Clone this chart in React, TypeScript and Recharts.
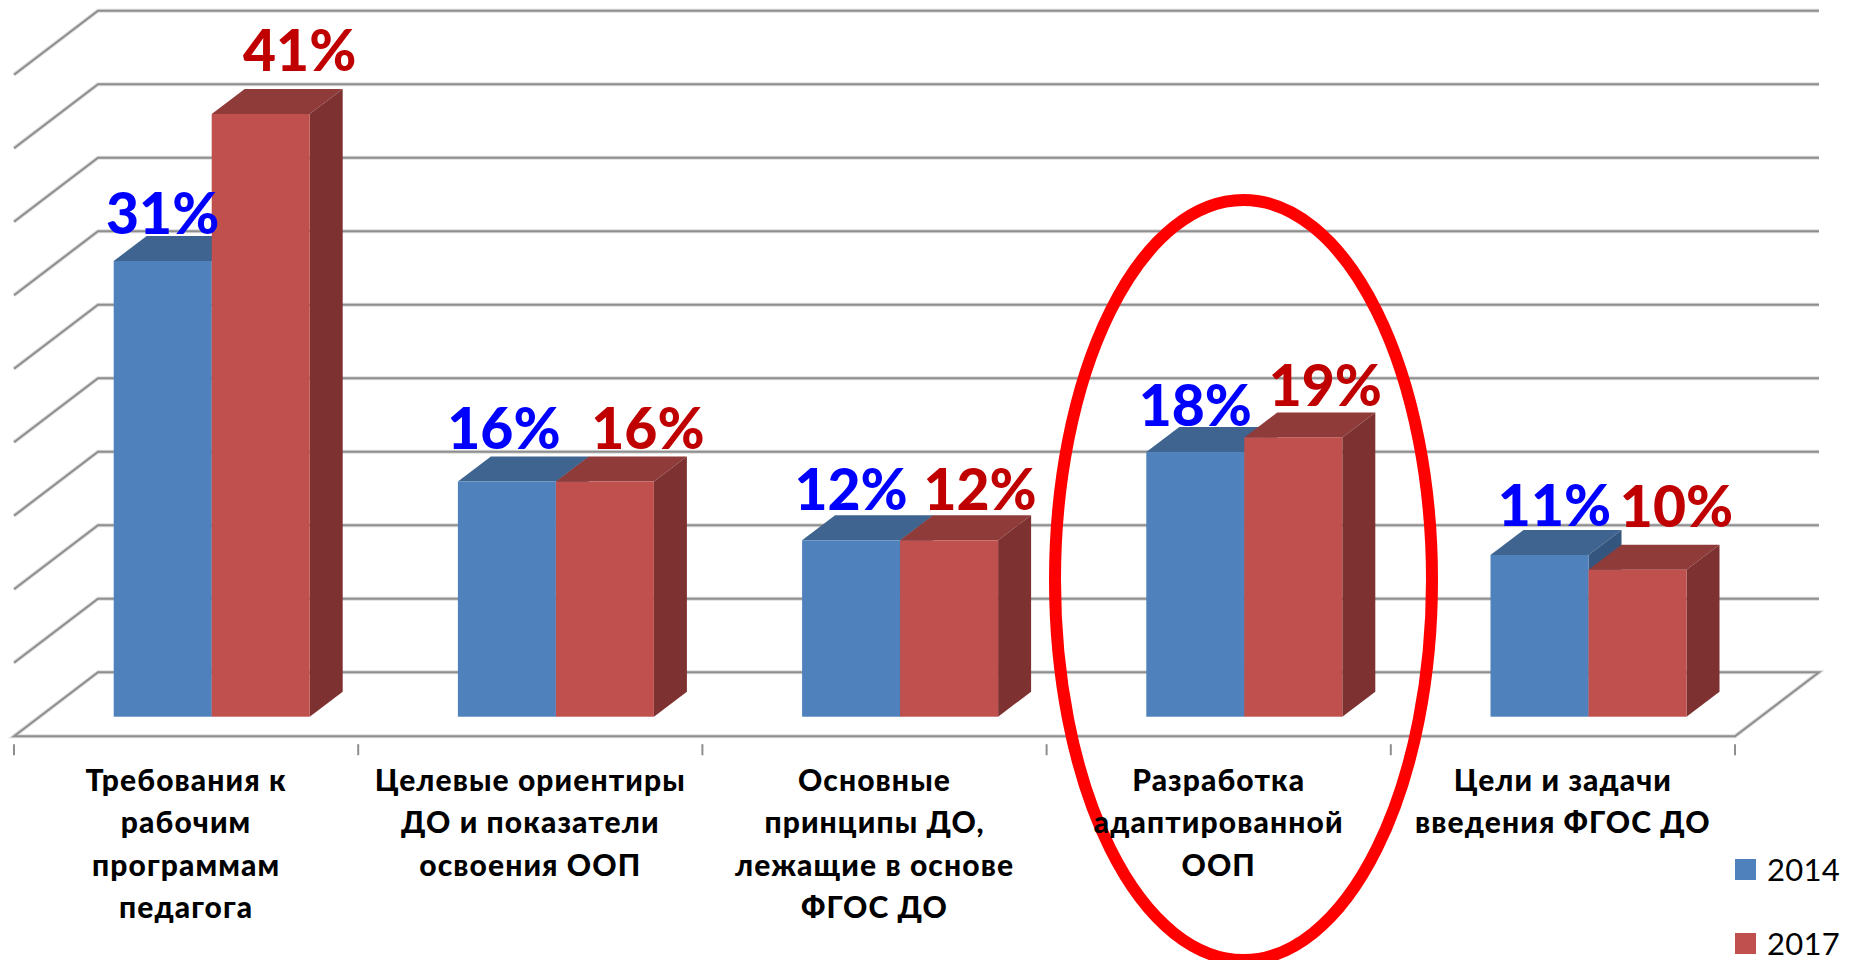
import { Bar, BarChart, CartesianGrid, LabelList, Legend, XAxis, YAxis } from "recharts";

const CATEGORIES = [
  "Требования к\nрабочим\nпрограммам\nпедагога",
  "Целевые ориентиры\nДО и показатели\nосвоения ООП",
  "Основные\nпринципы ДО,\nлежащие в основе\nФГОС ДО",
  "Разработка\nадаптированной\nООП",
  "Цели и задачи\nвведения ФГОС ДО",
];
const VALUES_2014 = [31, 16, 12, 18, 11];
const VALUES_2017 = [41, 16, 12, 19, 10];
const Y_TICKS = [0, 5, 10, 15, 20, 25, 30, 35, 40, 45];

const data = CATEGORIES.map((name, i) => ({ name, y2014: VALUES_2014[i], y2017: VALUES_2017[i] }));

const FONT = "Lato, 'Noto Sans', sans-serif";
const BLUE = { front: "#4f81bd", top: "#3e648f", side: "#33557e" };
const RED = { front: "#c0504d", top: "#8f3b39", side: "#7d3231" };

// fake 3d offsets
const BAR_DX = 33;
const BAR_DY = 25;
const WALL_DX = 84;
const WALL_DY = 44.5;
const FLOOR_DY = 19.5;
const FLOOR_SHIFT = 25.5;

// data labels were moved by hand in the original
const LABEL_2014 = [{ dx: 0, dy: -27 }, { dx: -3, dy: -33 }, { dx: 0, dy: -30 }, { dx: 0, dy: -26 }, { dx: 15, dy: -29 }];
const LABEL_2017 = [{ dx: 39, dy: -43 }, { dx: 43, dy: -33 }, { dx: 31, dy: -30 }, { dx: 32, dy: -31 }, { dx: 39, dy: -43 }];

function Box3D({ x, y, width, height, colors }: any) {
  const r = x + width;
  const b = y + height;
  return (
    <g>
      <polygon points={`${x},${y} ${x + BAR_DX},${y - BAR_DY} ${r + BAR_DX},${y - BAR_DY} ${r},${y}`} fill={colors.top} />
      <polygon points={`${r},${y} ${r + BAR_DX},${y - BAR_DY} ${r + BAR_DX},${b - BAR_DY} ${r},${b}`} fill={colors.side} />
      <rect x={x} y={y} width={width} height={height} fill={colors.front} />
    </g>
  );
}

function WallLine(props: any) {
  const { x1, x2, y1, index } = props;
  const isFloor = y1 > 700;
  const left = x1 - FLOOR_SHIFT;
  const right = x2 - FLOOR_SHIFT;
  const back = y1 - WALL_DY;
  const front = y1 + FLOOR_DY;
  const d = isFloor
    ? `M${left},${front} L${left + WALL_DX},${back} L${right + WALL_DX},${back} L${right},${front} Z`
    : `M${left},${front} L${left + WALL_DX},${back} L${right + WALL_DX},${back}`;
  return (
    <g key={index}>
      <path d={d} fill="none" stroke="#dcdcdc" strokeWidth={4} />
      <path d={d} fill="none" stroke="#8e8e8e" strokeWidth={2} />
    </g>
  );
}

function CategoryTick({ x, y, payload, index }: any) {
  const band = 1721 / CATEGORIES.length;
  const cx = x - FLOOR_SHIFT;
  const floorY = y + FLOOR_DY;
  const lines: string[] = String(payload.value).split("\n");
  return (
    <g>
      <path d={`M${cx - band / 2},${floorY} v11`} stroke="#8e8e8e" strokeWidth={2} />
      {index === CATEGORIES.length - 1 && <path d={`M${cx + band / 2},${floorY} v11`} stroke="#8e8e8e" strokeWidth={2} />}
      <text x={cx} textAnchor="middle" fontFamily={FONT} fontWeight={900} fontSize={30} letterSpacing={1.1} fill="#000">
        {lines.map((line, i) => (
          <tspan key={i} x={cx} y={791 + i * 42.3}>
            {line}
          </tspan>
        ))}
      </text>
    </g>
  );
}

function barLabel(color: string, nudges: { dx: number; dy: number }[]) {
  return (props: any) => {
    const { x, y, width, value, index } = props;
    const n = nudges[index];
    return (
      <text x={x + width / 2 + n.dx} y={y + n.dy} textAnchor="middle" fontFamily={FONT} fontWeight={900} fontSize={57} fill={color}>
        {value}%
      </text>
    );
  };
}

function LegendBox({ payload }: any) {
  return (
    <div style={{ fontFamily: FONT }}>
      {(payload ?? []).map((item: any) => (
        <div key={item.value} style={{ display: "flex", alignItems: "center", height: 74, fontSize: 31, letterSpacing: 0.3, lineHeight: 1, color: "#000" }}>
          <span style={{ width: 21, height: 21, background: item.color, marginRight: 11, display: "inline-block" }} />
          {item.value}
        </div>
      ))}
    </div>
  );
}

export default function App() {
  return (
    <div style={{ position: "absolute", left: 0, top: 0, width: 1856, height: 960, background: "#fff", overflow: "hidden" }}>
      <BarChart
        width={1856}
        height={960}
        data={data}
        margin={{ top: 55.2, right: 95.5, bottom: 0, left: 39.5 }}
        barCategoryGap={74.2}
        barGap={0}
      >
        <CartesianGrid vertical={false} horizontal={WallLine} />
        <XAxis dataKey="name" height={243.3} axisLine={false} tickLine={false} interval={0} tick={CategoryTick} />
        <YAxis hide domain={[0, 45]} ticks={Y_TICKS} width={0} />
        <Legend
          layout="vertical"
          align="center"
          verticalAlign="middle"
          wrapperStyle={{ left: 1735, top: 832, width: 120 }}
          content={LegendBox}
        />
        <Bar dataKey="y2014" name="2014" fill={BLUE.front} isAnimationActive={false} shape={(p: any) => <Box3D {...p} colors={BLUE} />}>
          <LabelList dataKey="y2014" content={barLabel("#0000ff", LABEL_2014)} />
        </Bar>
        <Bar dataKey="y2017" name="2017" fill={RED.front} isAnimationActive={false} shape={(p: any) => <Box3D {...p} colors={RED} />}>
          <LabelList dataKey="y2017" content={barLabel("#c00000", LABEL_2017)} />
        </Bar>
        <ellipse cx={1243.5} cy={580} rx={188.5} ry={380} fill="none" stroke="#ff0000" strokeWidth={12} />
      </BarChart>
    </div>
  );
}
